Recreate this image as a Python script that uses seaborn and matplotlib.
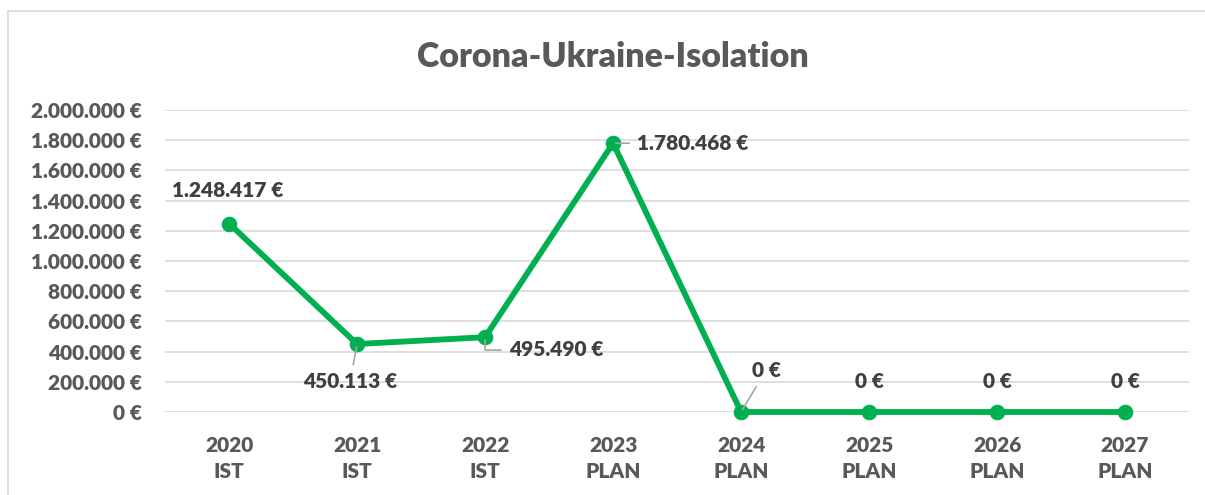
import matplotlib
matplotlib.use("Agg")
import matplotlib.pyplot as plt
from matplotlib.ticker import FuncFormatter
from matplotlib.patches import Rectangle
import pandas as pd
import seaborn as sns

years = ["2020", "2021", "2022", "2023", "2024", "2025", "2026", "2027"]
kinds = ["IST", "IST", "IST", "PLAN", "PLAN", "PLAN", "PLAN", "PLAN"]
values = [1248417, 450113, 495490, 1780468, 0, 0, 0, 0]

# label offsets in points (dx, dy), alignment, and whether a leader line is drawn
label_pos = [(-1, 24, "center", False), (-5, -27, "center", True),
             (17, -9, "left", True), (17, 0, "left", True),
             (18, 30, "center", True), (0, 22, "center", False),
             (0, 22, "center", False), (0, 22, "center", False)]

sns.set_style("white")
plt.rcParams["font.family"] = ["Lato", "DejaVu Sans"]
plt.rcParams["font.weight"] = "heavy"

green = "#00B050"
fs = 15
df = pd.DataFrame({"pos": range(len(years)), "wert": values})

fig = plt.figure(figsize=(12.05, 4.95), dpi=100)
ax = fig.add_axes([0.137, 0.1677, 0.8498, 0.610])

sns.lineplot(data=df, x="pos", y="wert", ax=ax, color=green, linewidth=4.2,
             marker="o", markersize=10.5, markeredgecolor=green, clip_on=False)

ax.set_xlim(-0.5, len(years) - 0.5)
ax.set_ylim(0, 2000000)
ax.set_yticks(range(0, 2000001, 200000))
ax.yaxis.set_major_formatter(FuncFormatter(lambda v, p: f"{int(v):,}".replace(",", ".") + " €"))
ax.set_xticks(range(len(years)))
ax.set_xticklabels([f"{y}\n{k}" for y, k in zip(years, kinds)], linespacing=1.45)
ax.tick_params(axis="y", length=0, pad=17, labelsize=fs, labelcolor="#595959")
ax.tick_params(axis="x", length=0, pad=17, labelsize=fs, labelcolor="#595959")
for t in ax.get_xticklabels() + ax.get_yticklabels():
    t.set_fontweight("heavy")
ax.grid(axis="y", color="#D9D9D9", linewidth=1.2)
ax.set_axisbelow(True)
for s in ax.spines.values():
    s.set_visible(False)
ax.set_xlabel("")
ax.set_ylabel("")

for i, v in enumerate(values):
    dx, dy, ha, lead = label_pos[i]
    txt = f"{v:,}".replace(",", ".") + " €"
    arrow = dict(arrowstyle="-", color="#A6A6A6", lw=1.2, shrinkA=3, shrinkB=2) if lead else None
    if lead and i == 2:
        arrow["connectionstyle"] = "angle,angleA=180,angleB=90,rad=0"
    ax.annotate(txt, xy=(i, v), xytext=(dx, dy), textcoords="offset points",
                ha=ha, va="center", fontsize=fs, color="#404040",
                fontweight="heavy", arrowprops=arrow)

fig.text(0.509, 0.884, "Corona-Ukraine-Isolation", ha="center", va="center",
         fontsize=24.5, color="#595959", fontweight="heavy")

fig.patches.append(Rectangle((8 / 1205, -0.05), 1.1, 0.05 + 1 - 11 / 495,
                             transform=fig.transFigure, fill=False,
                             edgecolor="#D9D9D9", linewidth=1.2))

fig.savefig("out.png", dpi=100)
